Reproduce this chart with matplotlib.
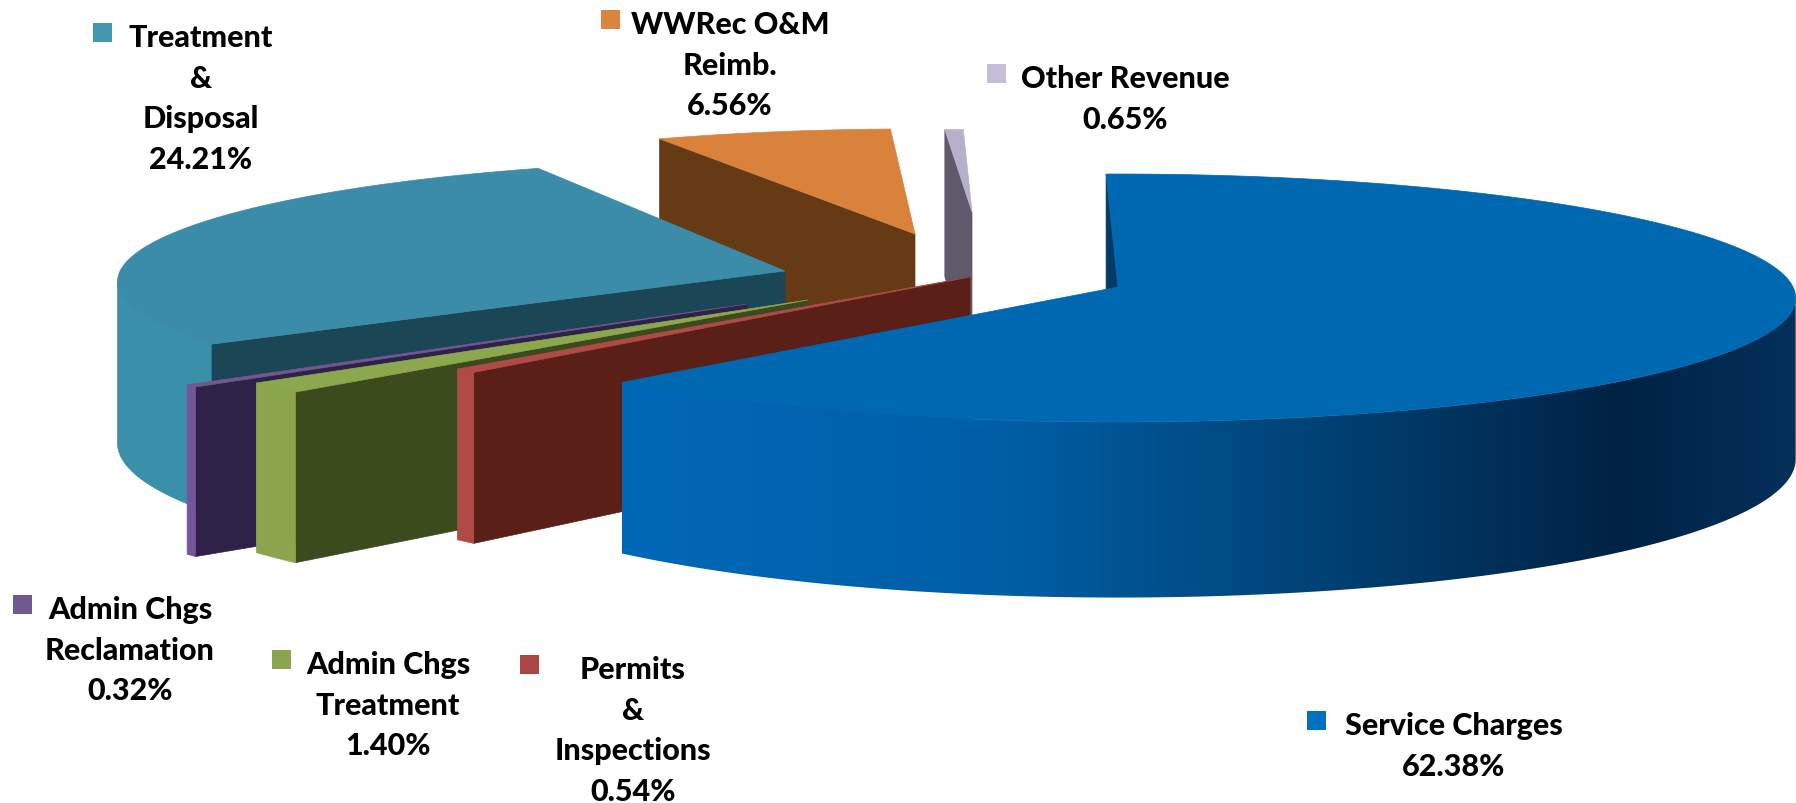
import numpy as np
from matplotlib import pyplot as plt
from matplotlib.colors import to_rgb
from matplotlib.patches import Polygon

names = ['Service Charges', 'Permits\n&\nInspections', 'Admin Chgs\nTreatment', 'Admin Chgs\nReclamation',
         'Treatment\n&\nDisposal', 'WWRec O&M\nReimb.', 'Other Revenue']
values = [62.38, 0.54, 1.40, 0.32, 24.21, 6.56, 0.65]

# labels add up to 96.06, the picture gives the rest to the Treatment wedge
drawn = list(values)
drawn[4] += 100 - sum(values)

top_colors = ['#0067b1', '#b04a46', '#8ca84e', '#71588f', '#3b8ca8', '#d9823c', '#b7b0cb']
face_colors = ['#043a66', '#5a2018', '#3b4b1e', '#2e2248', '#1a4656', '#653a14', '#5e5a6c']
rim_colors = ['#0067b1', '#b04a46', '#8ba54c', '#75559a', '#3a90a8', '#d9823c', '#b7b0cb']
legend_colors = ['#0070c0', '#aa4643', '#89a54e', '#71588f', '#4198af', '#db843d', '#c5bedb']

# where each exploded slice has its point, how much it shrinks going back,
# and how many degrees the slice is turned on its own point
apex_x = [1118, 970, 808, 747, 785, 915, 972]
apex_y = [288, 278, 301, 305, 272, 235, 213]
shrink = [1, 1, 1, 1, 0.985, 0.93, 0.73]
turn = [0, 0, 0, 0, 3.4, 1, 0]

# label layout: square x, square y, text centre x, first line y
square_x = [1307, 520, 272, 13, 93, 601, 987]
square_y = [712, 656, 651, 596, 24, 11, 65]
text_x = [1454, 633, 388, 130, 201, 730, 1125]
text_y = [726, 670, 665, 610, 38, 25, 79]
line_step = 40.7

A, B, K, H = 675, 123, 0.0887, 160
start_angle = -1.1

blue_x = [622, 1000, 1300, 1620, 1796]
blue_rim = ['#0068b8', '#005fa6', '#004478', '#002244', '#04305a']


def rim_point(theta, scale):
    u = np.sin(np.radians(theta))
    v = -np.cos(np.radians(theta))
    f = 1 / (1 - K * v)
    return A * u * f * scale, B * v * f * scale, H * f, v


plt.rcParams['font.family'] = ['Lato', 'DejaVu Sans']
fig = plt.figure(figsize=(17.96, 8.04), dpi=100)
ax = fig.add_axes([0, 0, 1, 1])

bounds = np.concatenate([[start_angle], start_angle + np.cumsum(drawn) * 3.6])

# back slices first, service charges last
for i in [6, 5, 4, 3, 2, 1, 0]:
    a0, a1 = bounds[i] + turn[i], bounds[i + 1] + turn[i]
    cx, cy = apex_x[i], apex_y[i]
    angles = np.linspace(a0, a1, max(3, int((a1 - a0) * 2)))
    pts = [rim_point(t, shrink[i]) for t in angles]
    xs = np.array([cx + p[0] for p in pts])
    ys = np.array([cy + p[1] for p in pts])
    hs = np.array([p[2] for p in pts])
    # the sides of the pie turn away at v = K
    front = np.array([p[3] for p in pts]) >= K

    # cut face on the start side
    ax.fill([cx, xs[0], xs[0], cx], [cy, ys[0], ys[0] + hs[0], cy + H],
            color=face_colors[i], lw=0.5, zorder=10 - i)

    # outer wall, front part only
    if front.any():
        wall_x = np.r_[xs[front], xs[front][::-1]]
        wall_y = np.r_[ys[front], (ys[front] + hs[front])[::-1]]
        if i == 0:
            grad_x = np.linspace(blue_x[0], blue_x[-1], 600)
            rgb = np.array([to_rgb(c) for c in blue_rim])
            grad = np.stack([np.interp(grad_x, blue_x, rgb[:, c]) for c in range(3)], axis=-1)[np.newaxis]
            wall = Polygon(np.c_[wall_x, wall_y], closed=True, fc='none', ec='none', transform=ax.transData)
            ax.add_patch(wall)
            im = ax.imshow(grad, extent=[blue_x[0], blue_x[-1], 620, 250], aspect='auto', zorder=10 - i)
            im.set_clip_path(wall)
        else:
            ax.fill(wall_x, wall_y, color=rim_colors[i], lw=0.5, zorder=10 - i)

    ax.fill(np.r_[cx, xs], np.r_[cy, ys], color=top_colors[i], lw=0.5, zorder=10 - i)

for i in range(len(names)):
    ax.fill([square_x[i], square_x[i] + 19, square_x[i] + 19, square_x[i]],
            [square_y[i], square_y[i], square_y[i] + 19, square_y[i] + 19],
            color=legend_colors[i], lw=0, zorder=20)
    lines = names[i].split('\n') + ['%.2f%%' % values[i]]
    for n, line in enumerate(lines):
        ax.text(text_x[i], text_y[i] + n * line_step, line, ha='center', va='center',
                fontsize=22, fontweight='black', color='black', zorder=21)

ax.set_xlim(0, 1796)
ax.set_ylim(804, 0)
ax.axis('off')

plt.savefig('out.png', dpi=100)
